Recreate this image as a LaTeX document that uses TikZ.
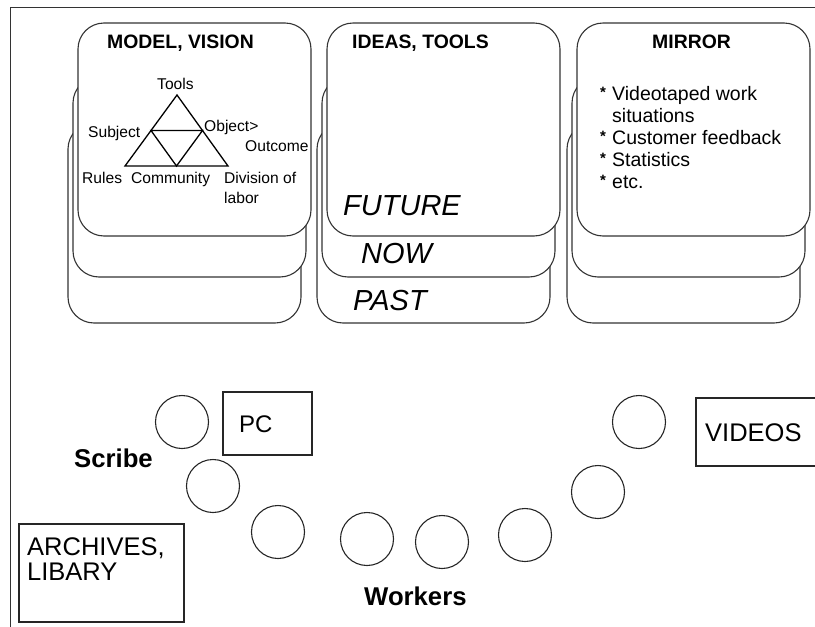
\documentclass[tikz,border=0pt]{standalone}
\usepackage{fontspec}
\setmainfont{Liberation Sans}
\usetikzlibrary{calc}

\tikzset{
  frame/.style={line width=1pt, black!80},
  card/.style={draw=black!80, fill=white, line width=1.1pt, rounded corners=26pt},
  headtext/.style={anchor=base west, inner sep=0pt, font=\fontsize{19.4}{22}\selectfont\bfseries},
  tritext/.style={anchor=base west, inner sep=0pt, font=\fontsize{15.6}{20}\selectfont},
  listtext/.style={anchor=base west, inner sep=0pt, font=\fontsize{19.5}{22}\selectfont},
  bultext/.style={anchor=base west, inner sep=0pt, font=\fontsize{15}{18}\selectfont\bfseries},
  timetext/.style={anchor=base west, inner sep=0pt, font=\fontsize{29}{32}\selectfont\itshape},
  seat/.style={draw=black!85, line width=1.1pt, circle, minimum size=53pt, inner sep=0pt},
  roombox/.style={draw=black!85, line width=1.1pt},
  roomtext/.style={anchor=base west, inner sep=0pt, font=\fontsize{25.5}{25}\selectfont},
  roletext/.style={anchor=base west, inner sep=0pt, font=\fontsize{25.7}{28}\selectfont\bfseries}
}

\begin{document}
\begin{tikzpicture}[x=1pt,y=-1pt]
  \useasboundingbox (0,0) rectangle (815,627);

  % page frame
  \draw[frame] (10,7) -- (815,7);
  \draw[frame] (10,7) -- (10,627);

  % stacked cards (past, now, future)
  \foreach \L in {78,327,577}{
    \draw[card] (\L-10,123) rectangle (\L+223,323);
    \draw[card] (\L-5,77) rectangle (\L+228,277);
    \draw[card] (\L,23) rectangle (\L+233,236);
  }

  % card titles
  \node[headtext] (model)  at (107,48) {MODEL, VISION};
  \node[headtext] (ideas)  at (352,48) {IDEAS, TOOLS};
  \node[headtext] (mirror) at (652,48) {MIRROR};

  % activity triangle
  \coordinate (apex) at (177,95);
  \coordinate (bl)   at (125,166);
  \coordinate (br)   at (228,166);
  \draw[line width=1.3pt] (apex) -- (bl) -- (br) -- cycle;
  \draw[line width=1.3pt] ($(apex)!0.5!(bl)$) -- ($(apex)!0.5!(br)$)
    -- ($(bl)!0.5!(br)$) -- cycle;
  \node[tritext] (tools)     at (157,89)  {Tools};
  \node[tritext] (subject)   at (88,137)  {Subject};
  \node[tritext] (object)    at (204,131) {Object>};
  \node[tritext] (outcome)   at (245,151) {Outcome};
  \node[tritext] (rules)     at (82,183)  {Rules};
  \node[tritext] (community) at (131,183) {Community};
  \node[tritext] (division)  at (224,183) {Division of};
  \node[tritext] (labor)     at (224,203) {labor};

  % time layers
  \node[timetext] (future) at (343,215) {FUTURE};
  \node[timetext] (now)    at (361,263) {NOW};
  \node[timetext] (past)   at (353,310) {PAST};

  % mirror list
  \node[bultext] (bulA) at (600,97) {*};
  \node[bultext] (bulB) at (600,141) {*};
  \node[bultext] (bulC) at (600,163) {*};
  \node[bultext] (bulD) at (600,185) {*};
  \node[listtext] (videotaped) at (612,100) {Videotaped work};
  \node[listtext] (situations) at (612,122) {situations};
  \node[listtext] (customer)   at (612,144) {Customer feedback};
  \node[listtext] (statistics) at (612,166) {Statistics};
  \node[listtext] (etc)        at (612,188) {etc.};

  % seats
  \node[seat] (scribeseat) at (182,422) {};
  \node[seat] (seatA) at (213,486) {};
  \node[seat] (seatB) at (278,532) {};
  \node[seat] (seatC) at (367,539) {};
  \node[seat] (seatD) at (442,542) {};
  \node[seat] (seatE) at (525,535) {};
  \node[seat] (seatF) at (598,492) {};
  \node[seat] (seatG) at (639,422) {};

  % room items
  \draw[roombox] (223,392) rectangle (312,455);
  \node[roomtext, font=\fontsize{24}{25}\selectfont] (pc) at (239,432) {PC};
  \draw[roombox] (815,398) -- (696,398) -- (696,466) -- (815,466);
  \node[roomtext] (videos) at (705,441) {VIDEOS};
  \draw[roombox] (19,524) rectangle (184,622);
  \node[roomtext] (archives) at (27,555) {ARCHIVES,};
  \node[roomtext] (libary)   at (27,580) {LIBARY};

  % roles
  \node[roletext] (scribe)  at (74,467)  {Scribe};
  \node[roletext] (workers) at (364,605) {Workers};
\end{tikzpicture}
\end{document}
